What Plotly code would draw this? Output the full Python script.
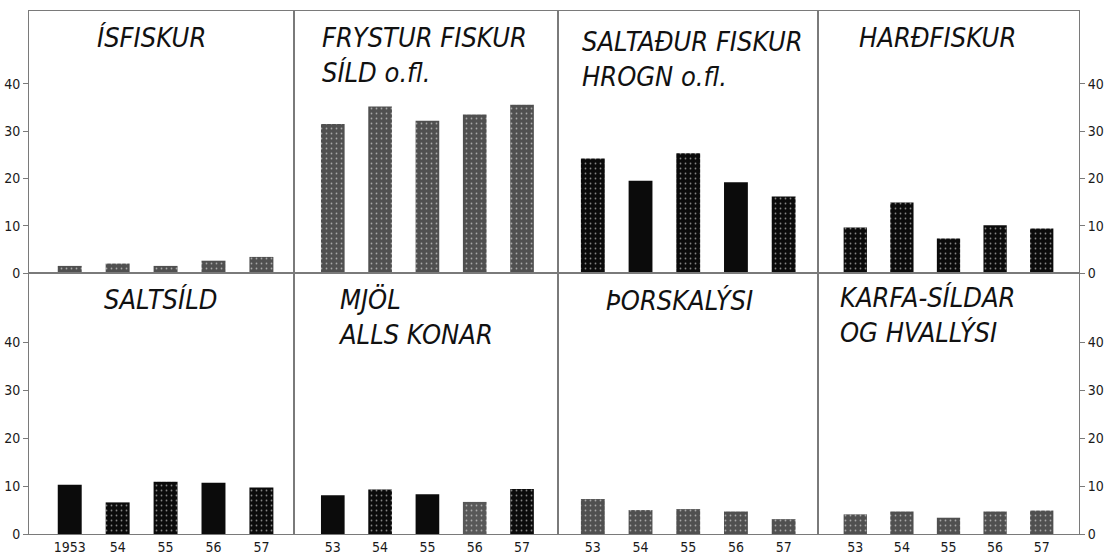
import plotly.graph_objects as go

# ---------------- data ----------------
years = [1953, 1954, 1955, 1956, 1957]
first_tick_labels = ["1953", "54", "55", "56", "57"]
other_tick_labels = ["53", "54", "55", "56", "57"]

isfiskur = [1.5, 2.0, 1.5, 2.6, 3.4]
frystur = [31.5, 35.2, 32.2, 33.5, 35.6]
saltadur = [24.2, 19.5, 25.3, 19.2, 16.2]
hardfiskur = [9.6, 14.9, 7.3, 10.1, 9.4]
saltsild = [10.3, 6.6, 10.9, 10.7, 9.7]
mjol = [8.1, 9.3, 8.3, 6.7, 9.4]
thorskalysi = [7.3, 5.0, 5.2, 4.7, 3.1]
karfa_hvallysi = [4.1, 4.7, 3.4, 4.7, 4.9]

titles = [
    "ÍSFISKUR",
    "FRYSTUR FISKUR<br>SÍLD o.fl.",
    "SALTAÐUR FISKUR<br>HROGN o.fl.",
    "HARÐFISKUR",
    "SALTSÍLD",
    "MJÖL<br>ALLS KONAR",
    "ÞORSKALÝSI",
    "KARFA-SÍLDAR<br>OG HVALLÝSI",
]
y_ticks = [0, 10, 20, 30, 40]

series = [isfiskur, frystur, saltadur, hardfiskur,
          saltsild, mjol, thorskalysi, karfa_hvallysi]

# ---------------- styles ----------------
GRAY = "#505050"
BLACK = "#0b0b0b"
bar_colors = [
    [GRAY] * 5,
    [GRAY] * 5,
    [BLACK] * 5,
    [BLACK] * 5,
    [BLACK] * 5,
    [BLACK, BLACK, BLACK, "#585858", BLACK],
    [GRAY] * 5,
    [GRAY] * 5,
]
bar_patterns = [
    ["."] * 5,
    ["."] * 5,
    [".", "", ".", "", "."],
    ["."] * 5,
    ["", ".", ".", "", "."],
    ["", ".", "", ".", "."],
    ["."] * 5,
    ["."] * 5,
]
pattern_fg = ["#666666", "#666666", "#e8e8e8", "#e8e8e8",
              "#e8e8e8", "#e8e8e8", "#666666", "#666666"]

W, H = 1106, 559
ML, MR, MT, MB = 29, 27, 11, 25
PW = W - ML - MR
PH = H - MT - MB

col_px = [29, 294, 558, 818, 1079]
x_domains = [[(col_px[i] - ML) / PW, (col_px[i + 1] - ML) / PW] for i in range(4)]
x_domains[-1][1] = 1.0
row_split = (H - MB - 273) / PH
y_domains = [[row_split, 1.0], [0.0, row_split]]

x_ranges = [
    [1952.15, 1957.68],
    [1952.18, 1957.76],
    [1952.27, 1957.72],
    [1952.20, 1957.80],
]
y_ranges = [[0, 55.4], [0, 54.5]]

LINE = "#7a7a7a"
TICKFONT = dict(family="Liberation Sans Narrow, DejaVu Sans Condensed, Liberation Sans, sans-serif",
                size=14, color="#1a1a1a")
TITLEFONT = dict(family="Liberation Sans Narrow, DejaVu Sans Condensed, Arial Narrow, sans-serif",
                 size=27, color="#111", style="italic")

fig = go.Figure()
layout = dict(
    width=W, height=H,
    margin=dict(l=ML, r=MR, t=MT, b=MB, autoexpand=False),
    paper_bgcolor="white", plot_bgcolor="white",
    showlegend=False, bargap=0.5,
)

for i, vals in enumerate(series):
    r, c = divmod(i, 4)
    n = i + 1
    xa = "x" if n == 1 else f"x{n}"
    ya = "y" if n == 1 else f"y{n}"
    fig.add_trace(go.Bar(
        x=years, y=vals, xaxis=xa, yaxis=ya, width=0.5,
        marker=dict(color=bar_colors[i], line=dict(width=0),
                    pattern=dict(shape=bar_patterns[i], fgcolor=pattern_fg[i],
                                 size=5, solidity=0.1)),
        hoverinfo="x+y",
    ))
    xkey = "xaxis" if n == 1 else f"xaxis{n}"
    ykey = "yaxis" if n == 1 else f"yaxis{n}"
    xa_cfg = dict(domain=x_domains[c], range=x_ranges[c], anchor=ya,
                  automargin=False,
                  showgrid=False, zeroline=False, showline=True, mirror=True,
                  linecolor=LINE, linewidth=1, ticks="", fixedrange=True)
    if r == 1:
        xa_cfg.update(tickvals=years,
                      ticktext=first_tick_labels if c == 0 else other_tick_labels,
                      tickfont=TICKFONT, showticklabels=True)
    else:
        xa_cfg.update(showticklabels=False)
    ya_cfg = dict(domain=y_domains[r], range=y_ranges[r], anchor=xa,
                  automargin=False,
                  showgrid=False, zeroline=False, showline=True, mirror=True,
                  linecolor=LINE, linewidth=1, fixedrange=True, tickvals=y_ticks)
    if c == 0:
        ya_cfg.update(side="left", ticks="outside", ticklen=5, tickcolor=LINE,
                      showticklabels=True, tickfont=TICKFONT)
    elif c == 3:
        ya_cfg.update(side="right", ticks="outside", ticklen=5, tickcolor=LINE,
                      showticklabels=True, tickfont=TICKFONT)
    else:
        ya_cfg.update(ticks="", showticklabels=False)
    layout[xkey] = xa_cfg
    layout[ykey] = ya_cfg

# title positions in pixels (left, top)
title_pos = [(95, 20), (320, 20), (580, 24), (857, 20),
             (102, 282), (336, 282), (604, 283), (838, 280)]

def px_to_paper(px, py):
    return (px - ML) / PW, (H - MB - py) / PH

annotations = []
for t, (px, py) in zip(titles, title_pos):
    ax, ay = px_to_paper(px, py)
    annotations.append(dict(text=t, x=ax, y=ay, xref="paper", yref="paper",
                            xanchor="left", yanchor="top", align="left",
                            showarrow=False, font=TITLEFONT))
layout["annotations"] = annotations

fig.update_layout(**layout)
fig.write_html("out.html",
               config={"displayModeBar": False},
               post_script="document.body.style.margin='0';document.body.style.overflow='hidden';")
